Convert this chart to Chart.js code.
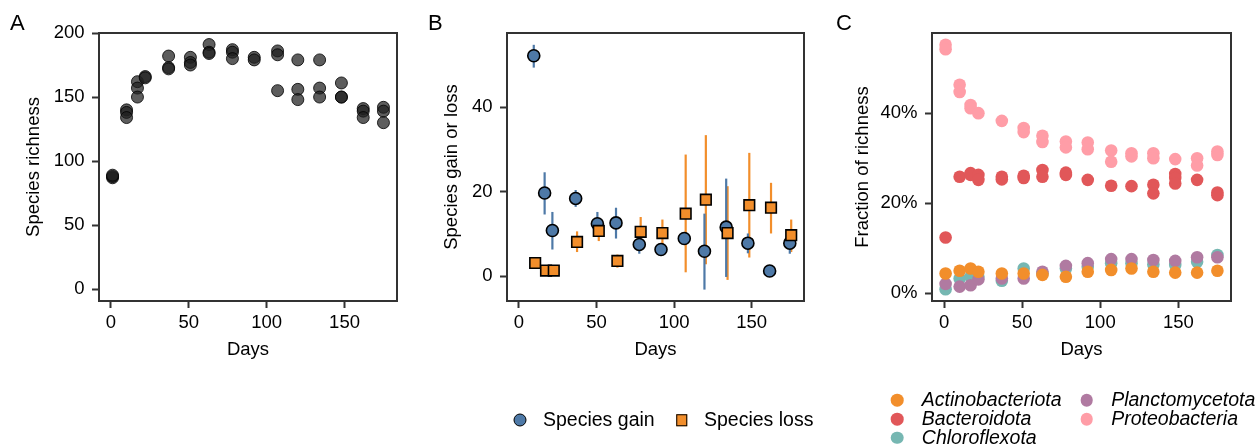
<!DOCTYPE html>
<html>
<head>
<meta charset="utf-8">
<script src="https://cdn.jsdelivr.net/npm/chart.js@4.4.1/dist/chart.umd.min.js"></script>
<style>
  body { margin: 0; background: #fff; width: 1257px; height: 444px; position: relative; overflow: hidden;
         font-family: "Liberation Sans", Arial, sans-serif; color: #000; }
  canvas { position: absolute; top: 0; }
  .tag { position: absolute; font-size: 22px; line-height: 22px; }
  .lab { position: absolute; font-size: 19.5px; line-height: 19.5px; white-space: nowrap; transform: translateY(-50%); }
  .lab.it { font-style: italic; }
  .mk { position: absolute; box-sizing: border-box; transform: translate(-50%, -50%); }
</style>
</head>
<body>
<canvas id="chartA" width="410" height="444" style="left:0px"></canvas>
<canvas id="chartB" width="410" height="444" style="left:410px"></canvas>
<canvas id="chartC" width="437" height="444" style="left:820px"></canvas>
<div class="tag" style="left:10px;top:12px">A</div>
<div class="tag" style="left:428px;top:12px">B</div>
<div class="tag" style="left:836px;top:12px">C</div>
<div id="legends"></div>

<script>
// sampling days
const days = [1, 10, 17, 22, 37, 51, 63, 78, 92, 107, 120, 134, 148, 162, 175];
const dayTicks = [0, 50, 100, 150];

// A: species richness per replicate
const richness = [
  [87, 88, 89], [140, 138, 134], [162, 157, 150], [166, 165], [182, 173, 172],
  [181, 177, 175], [191, 185, 184], [187, 185, 180], [181, 179], [186, 183, 155],
  [179, 156, 148], [179, 157, 150], [161, 150, 150], [141, 139, 134], [142, 139, 130]
];
const richnessTicks = [0, 50, 100, 150, 200];

// B: gain / loss between consecutive samplings (mean and range)
const turnoverDays = [10, 17, 22, 37, 51, 63, 78, 92, 107, 120, 134, 148, 162, 175];
const gainMean = [52.2, 19.7, 10.8, 18.4, 12.4, 12.6, 7.5, 6.3, 8.9, 5.9, 11.6, 7.8, 1.2, 7.8];
const gainLow  = [49.4, 14.6, 6.3, 16.4, 10.1, 8.9, 5.3, 6.3, 7.5, -3.2, -0.2, 5.4, 1.2, 5.3];
const gainHigh = [54.8, 24.6, 15.2, 20.4, 15.2, 16.2, 9.7, 6.3, 10.3, 14.8, 23.1, 10.1, 1.2, 9.3];
const lossMean = [3.1, 1.3, 1.3, 8.1, 10.7, 3.6, 10.5, 10.2, 14.8, 18.1, 10.2, 16.8, 16.2, 9.7];
const lossLow  = [3.1, 1.3, 1.3, 5.7, 8.3, 2.0, 6.1, 7.3, 0.9, 2.8, -0.9, 4.4, 10.1, 5.7];
const lossHigh = [3.1, 1.3, 1.3, 10.6, 12.8, 5.1, 14.0, 13.4, 28.8, 33.4, 21.3, 29.2, 22.1, 13.4];
const turnoverTicks = [0, 20, 40];
const dodge = 0.45;

// C: fraction of richness (%) per phylum
const phyla = ["Actinobacteriota", "Bacteroidota", "Chloroflexota", "Planctomycetota", "Proteobacteria"];
const actinobacteriota = [[4.4], [5.0], [5.5], [4.8], [4.4], [4.4], [4.1], [3.7], [4.8], [5.2], [5.5], [4.8], [4.6], [4.6], [5.0]];
const bacteroidota = [[12.4], [25.9], [26.7, 26.3], [26.3, 25.2], [25.9, 25.3], [26.1, 25.6], [27.4, 25.9], [26.8, 26.3],
  [25.2], [23.9], [23.8], [24.1, 22.2], [26.5, 25.6, 24.4], [25.2], [22.4, 21.8]];
const chloroflexota = [[0.9], [3.3], [3.7], [3.7], [2.8], [5.5], [4.4], [5.5], [5.9], [6.7], [6.7], [6.4], [6.3], [7.0], [8.5]];
const planctomycetota = [[2.1], [1.5], [1.8], [3.1], [3.3], [3.3], [4.8], [6.1], [6.7], [7.6], [7.6], [7.4], [7.2], [8.0], [8.0]];
const proteobacteria = [[55.2, 54.2], [46.3, 44.7], [41.8, 41.1], [40.0], [38.3], [36.7, 35.8], [35.0, 33.6], [33.7, 32.4],
  [33.5, 32.0], [31.7, 29.2], [31.1, 30.4], [31.1, 30.0], [29.8], [30.0, 28.4], [31.5, 30.7]];
const fractionTicks = [0, 20, 40];
const phylumColors = ["#f28e2b", "#e15759", "#76b7b2", "#b07aa1", "#ff9da7"];

const gainColor = "#4e79a7";
const lossColor = "#f28e2b";
const axisColor = "#333333";

Chart.defaults.font.family = "'Liberation Sans', Arial, sans-serif";
Chart.defaults.font.size = 18.5;
Chart.defaults.color = "#000";

// points from per-day replicate lists
function toPoints(vals) {
  return days.flatMap((d, i) => vals[i].map(v => ({ x: d, y: v })));
}

// panel frame drawn on top
const frame = {
  id: "frame",
  afterDraw(chart) {
    const { ctx, chartArea: a } = chart;
    ctx.save();
    ctx.strokeStyle = axisColor;
    ctx.lineWidth = 2;
    ctx.strokeRect(a.left, a.top, a.right - a.left, a.bottom - a.top);
    ctx.restore();
  }
};

// vertical range bars for panel B
const rangeBars = {
  id: "rangeBars",
  beforeDatasetsDraw(chart) {
    const { ctx, scales: { x, y } } = chart;
    ctx.save();
    ctx.lineWidth = 2.2;
    chart.data.datasets.forEach(ds => {
      ctx.strokeStyle = ds.barColor;
      ds.data.forEach((p, i) => {
        if (ds.high[i] - ds.low[i] < 0.01) return;
        const px = x.getPixelForValue(p.x);
        ctx.beginPath();
        ctx.moveTo(px, y.getPixelForValue(ds.low[i]));
        ctx.lineTo(px, y.getPixelForValue(ds.high[i]));
        ctx.stroke();
      });
    });
    ctx.restore();
  }
};

function axes(cfg) {
  const tickGrid = { drawOnChartArea: false, tickLength: 7, tickWidth: 2, tickColor: axisColor };
  return {
    x: {
      type: "linear", min: -7.7, max: 183.7,
      afterBuildTicks: s => { s.ticks = dayTicks.map(v => ({ value: v })); },
      afterFit: s => { s.height = 60; },
      grid: tickGrid, border: { display: false },
      ticks: { padding: 3.5, color: "#000" },
      title: { display: true, text: "Days", padding: 0, color: "#000" }
    },
    y: {
      type: "linear", min: cfg.min, max: cfg.max,
      afterBuildTicks: s => { s.ticks = cfg.ticks.map(v => ({ value: v })); },
      afterFit: s => { s.width = cfg.width; },
      grid: tickGrid, border: { display: false },
      ticks: { padding: 7.5, color: "#000", callback: cfg.fmt || (v => v) },
      title: { display: true, text: cfg.title, padding: { top: cfg.titlePad, bottom: 0 }, color: "#000" }
    }
  };
}

function common(padRight, scales) {
  return {
    responsive: false, animation: false, devicePixelRatio: 1,
    layout: { padding: { top: 33, right: padRight, bottom: 83, left: 0 } },
    plugins: { legend: { display: false }, tooltip: { enabled: false } },
    scales: scales
  };
}

// A
new Chart(document.getElementById("chartA"), {
  type: "scatter",
  data: {
    datasets: [{
      data: toPoints(richness),
      pointRadius: 6,
      pointBackgroundColor: "rgba(30,30,30,0.72)",
      pointBorderColor: "rgba(0,0,0,0.8)",
      pointBorderWidth: 1
    }]
  },
  options: common(13, axes({ min: -9.2, max: 200, ticks: richnessTicks, width: 99, title: "Species richness", titlePad: 22.4 })),
  plugins: [frame]
});

// B
new Chart(document.getElementById("chartB"), {
  type: "scatter",
  data: {
    datasets: [{
      label: "Species loss",
      data: turnoverDays.map((d, i) => ({ x: d + dodge, y: lossMean[i] })),
      low: lossLow, high: lossHigh, barColor: lossColor,
      pointStyle: "rect", pointRadius: 7.5,
      pointBackgroundColor: lossColor, pointBorderColor: "#000", pointBorderWidth: 1.6
    }, {
      label: "Species gain",
      data: turnoverDays.map((d, i) => ({ x: d - dodge, y: gainMean[i] })),
      low: gainLow, high: gainHigh, barColor: gainColor,
      pointStyle: "circle", pointRadius: 6,
      pointBackgroundColor: gainColor, pointBorderColor: "#000", pointBorderWidth: 1.6
    }]
  },
  options: common(16, axes({ min: -5.9, max: 57.6, ticks: turnoverTicks, width: 97, title: "Species gain or loss", titlePad: 30.6 })),
  plugins: [rangeBars, frame]
});

// C
const phylumSeries = [actinobacteriota, bacteroidota, chloroflexota, planctomycetota, proteobacteria];
const drawOrder = [0, 1, 3, 2, 4]; // first listed ends up on top
new Chart(document.getElementById("chartC"), {
  type: "scatter",
  data: {
    datasets: drawOrder.map(k => ({
      label: phyla[k],
      data: toPoints(phylumSeries[k]),
      pointRadius: 6.3,
      pointBackgroundColor: phylumColors[k],
      pointBorderWidth: 0
    }))
  },
  options: common(26, axes({ min: -1.7, max: 57.8, ticks: fractionTicks, width: 112, title: "Fraction of richness", titlePad: 32.2, fmt: v => v + "%" })),
  plugins: [frame]
});

// legends (html text)
const legends = document.getElementById("legends");
function marker(x, y, css) {
  const m = document.createElement("div");
  m.className = "mk";
  m.style.cssText = `left:${x}px;top:${y}px;` + css;
  legends.appendChild(m);
}
function label(x, y, text, italic) {
  const t = document.createElement("div");
  t.className = "lab" + (italic ? " it" : "");
  t.style.left = x + "px";
  t.style.top = y + "px";
  t.textContent = text;
  legends.appendChild(t);
}
marker(520, 420, `width:13px;height:13px;border-radius:50%;background:${gainColor};border:1.6px solid #000;`);
label(543, 420, "Species gain");
marker(681.5, 420, `width:11.5px;height:11.5px;background:${lossColor};border:1.6px solid #000;`);
label(704, 420, "Species loss");

const rowsY = [400, 419, 437.5];
phyla.forEach((name, i) => {
  const col = i < 3 ? 0 : 1;
  const row = i < 3 ? i : i - 3;
  const cx = col === 0 ? 897.3 : 1086.7;
  marker(cx, rowsY[row], `width:12.6px;height:12.6px;border-radius:50%;background:${phylumColors[i]};`);
  label(cx + 24.5, rowsY[row], name, true);
});
</script>
</body>
</html>
